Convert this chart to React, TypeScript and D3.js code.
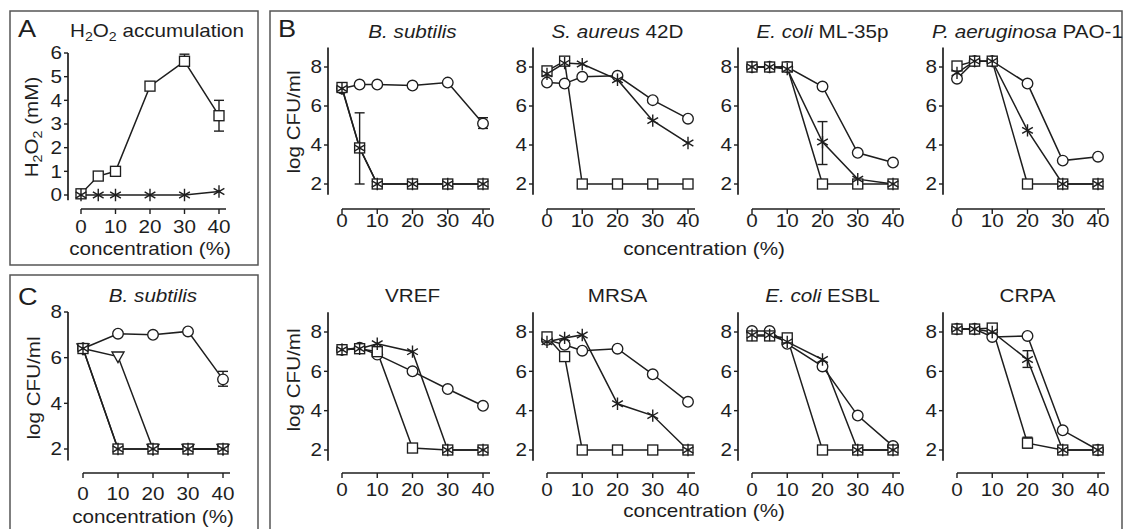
import React from 'react';
import * as d3 from 'd3';

const FONT = '"Liberation Sans", Arial, Helvetica, sans-serif';
const SX = 1.18;
const INK = '#1e1e1e';
const BOX = '#555';

// ---------- data ----------
const xTicks = [0, 10, 20, 30, 40];
const yTicksA = [0, 1, 2, 3, 4, 5, 6];
const yTicksCFU = [2, 4, 6, 8];

// Panel A (H2O2 accumulation)
const concA = [0, 5, 10, 20, 30, 40];
const h2o2Square = [0.05, 0.8, 1.0, 4.6, 5.65, 3.35];
const h2o2Star = [0, 0, 0, 0, 0, 0.15];
const h2o2Err = [
  { s: 'square', i: 4, lo: 5.45, hi: 5.95 },
  { s: 'square', i: 5, lo: 2.7, hi: 4.0 },
];

// Panel B
const concB = [0, 5, 10, 20, 30, 40];
const bsubCircle = [6.9, 7.1, 7.1, 7.05, 7.2, 5.1];
const bsubSquare = [6.95, 3.85, 2, 2, 2, 2];
const bsubStar = [6.9, 3.85, 2, 2, 2, 2];
const bsubErr = [
  { s: 'circle', i: 5, lo: 4.85, hi: 5.4 },
  { s: 'square', i: 1, lo: 2.0, hi: 5.65 },
];
const saurCircle = [7.2, 7.15, 7.5, 7.55, 6.3, 5.35];
const saurSquare = [7.8, 8.3, 2, 2, 2, 2];
const saurStar = [7.65, 8.2, 8.15, 7.35, 5.25, 4.1];
const ecmlCircle = [8, 8, 8, 7.0, 3.6, 3.1];
const ecmlSquare = [8, 8, 8, 2, 2, 2];
const ecmlStar = [8, 8, 7.9, 4.15, 2.25, 2];
const ecmlErr = [{ s: 'star', i: 3, lo: 3.0, hi: 5.2 }];
const paerCircle = [7.4, 8.3, 8.3, 7.15, 3.2, 3.4];
const paerSquare = [8.05, 8.3, 8.3, 2, 2, 2];
const paerStar = [7.7, 8.3, 8.3, 4.75, 2, 2];
const vrefCircle = [7.1, 7.2, 6.85, 6.0, 5.1, 4.25];
const vrefSquare = [7.1, 7.15, 7.0, 2.1, 2, 2];
const vrefStar = [7.1, 7.15, 7.4, 7.0, 2, 2];
const mrsaCircle = [7.6, 7.35, 7.05, 7.15, 5.85, 4.45];
const mrsaSquare = [7.75, 6.75, 2, 2, 2, 2];
const mrsaStar = [7.5, 7.7, 7.85, 4.35, 3.75, 2];
const esblCircle = [8.05, 8.05, 7.4, 6.25, 3.75, 2.2];
const esblSquare = [7.8, 7.8, 7.7, 2, 2, 2];
const esblStar = [7.85, 7.85, 7.5, 6.6, 2, 2];
const crpaCircle = [8.15, 8.15, 7.75, 7.8, 3.0, 2];
const crpaSquare = [8.15, 8.15, 8.2, 2.35, 2, 2];
const crpaStar = [8.15, 8.15, 8.0, 6.6, 2, 2];
const crpaErr = [
  { s: 'square', i: 3, lo: 2.1, hi: 2.65 },
  { s: 'star', i: 3, lo: 6.2, hi: 7.05 },
];

// Panel C
const concC = [0, 10, 20, 30, 40];
const cCircle = [6.4, 7.05, 7.0, 7.15, 5.05];
const cTriangle = [6.4, 6.05, 2, 2, 2];
const cSquare = [6.4, 2, 2, 2, 2];
const cStar = [6.4, 2, 2, 2, 2];
const cErr = [{ s: 'circle', i: 4, lo: 4.75, hi: 5.4 }];

// ---------- helpers ----------
function T({ x, y, children, anchor = 'middle', size = 17.5, rotate = 0 }: any) {
  return (
    <text
      transform={`translate(${x},${y}) rotate(${rotate}) scale(${SX},1)`}
      textAnchor={anchor}
      fontSize={size}
      fill={INK}
      fontFamily={FONT}
    >
      {children}
    </text>
  );
}

function Marker({ kind, x, y }: any) {
  const common = { fill: 'white', stroke: INK, strokeWidth: 1.35 };
  if (kind === 'circle') return <circle cx={x} cy={y} r={5.3} {...common} />;
  if (kind === 'square') return <rect x={x - 5} y={y - 5} width={10} height={10} {...common} />;
  if (kind === 'triangle')
    return <path d={`M${x - 6},${y - 4.5}L${x + 6},${y - 4.5}L${x},${y + 6}Z`} {...common} />;
  const r = 6.2;
  const d = [90, 30, 150]
    .map((a) => {
      const rad = (a * Math.PI) / 180;
      const dx = r * Math.cos(rad), dy = r * Math.sin(rad);
      return `M${x - dx},${y - dy}L${x + dx},${y + dy}`;
    })
    .join('');
  return <path d={d} stroke={INK} strokeWidth={1.4} fill="none" />;
}

function Plot({ geo, xs, series, errs = [], yTicks, title, titleY, ylabel }: any) {
  const x = d3.scaleLinear().domain([0, 40]).range([geo.x0, geo.x40]);
  const y = d3.scaleLinear().domain(geo.yDom).range(geo.yRng);
  const line = d3
    .line<[number, number]>()
    .x((d) => x(d[0]))
    .y((d) => y(d[1]));
  const order = ['circle', 'triangle', 'square', 'star'];
  const sorted = [...series].sort((a: any, b: any) => order.indexOf(a.kind) - order.indexOf(b.kind));
  return (
    <g>
      {/* y axis */}
      <line x1={geo.yAxisX} x2={geo.yAxisX} y1={y(geo.axTop)} y2={y(geo.axBot)} stroke={INK} strokeWidth={1.7} />
      {yTicks.map((t: number) => (
        <g key={'y' + t}>
          <line x1={geo.yAxisX - 4} x2={geo.yAxisX} y1={y(t)} y2={y(t)} stroke={INK} strokeWidth={1.4} />
          <T x={geo.yAxisX - 6} y={y(t) + 6.3} anchor="end" size={17.5}>
            {t}
          </T>
        </g>
      ))}
      {/* x axis */}
      <line x1={x(0)} x2={x(40) + 7} y1={geo.xAxisY} y2={geo.xAxisY} stroke={INK} strokeWidth={1.7} />
      {xTicks.map((t) => (
        <g key={'x' + t}>
          <line x1={x(t)} x2={x(t)} y1={geo.xAxisY} y2={geo.xAxisY + 5} stroke={INK} strokeWidth={1.4} />
          <T x={x(t)} y={geo.xTickY} size={17.5}>
            {t}
          </T>
        </g>
      ))}
      {title && (
        <T x={(geo.x0 + geo.x40) / 2} y={titleY}>
          {title}
        </T>
      )}
      {ylabel}
      {/* lines */}
      {sorted.map((s: any) => (
        <path
          key={'l' + s.kind}
          d={line(xs.map((c: number, i: number) => [c, s.values[i]])) || ''}
          fill="none"
          stroke={INK}
          strokeWidth={1.5}
        />
      ))}
      {/* error bars */}
      {errs.map((e: any, k: number) => {
        const cx = x(xs[e.i]);
        return (
          <g key={'e' + k} stroke={INK} strokeWidth={1.4}>
            <line x1={cx} x2={cx} y1={y(e.lo)} y2={y(e.hi)} />
            <line x1={cx - 5} x2={cx + 5} y1={y(e.lo)} y2={y(e.lo)} />
            <line x1={cx - 5} x2={cx + 5} y1={y(e.hi)} y2={y(e.hi)} />
          </g>
        );
      })}
      {/* markers */}
      {sorted.map((s: any) =>
        xs.map((c: number, i: number) => (
          <Marker key={s.kind + i} kind={s.kind} x={x(c)} y={y(s.values[i])} />
        ))
      )}
    </g>
  );
}

const It = ({ children }: any) => <tspan fontStyle="italic">{children}</tspan>;

export default function App() {
  const colX = [328, 533, 738, 943];
  const rowGeo = [
    { yDom: [2, 8], yRng: [184, 67], axTop: 9, axBot: 1.45, xAxisY: 209, xTickY: 227, titleY: 38 },
    { yDom: [2, 8], yRng: [450, 332], axTop: 9, axBot: 1.45, xAxisY: 473, xTickY: 496, titleY: 302 },
  ];
  const bPanels = [
    { r: 0, c: 0, title: <It>B. subtilis</It>, ci: bsubCircle, sq: bsubSquare, st: bsubStar, err: bsubErr },
    { r: 0, c: 1, title: <><It>S. aureus</It> 42D</>, ci: saurCircle, sq: saurSquare, st: saurStar, err: [] },
    { r: 0, c: 2, title: <><It>E. coli</It> ML-35p</>, ci: ecmlCircle, sq: ecmlSquare, st: ecmlStar, err: ecmlErr },
    { r: 0, c: 3, title: <><It>P. aeruginosa</It> PAO-1</>, ci: paerCircle, sq: paerSquare, st: paerStar, err: [] },
    { r: 1, c: 0, title: <>VREF</>, ci: vrefCircle, sq: vrefSquare, st: vrefStar, err: [] },
    { r: 1, c: 1, title: <>MRSA</>, ci: mrsaCircle, sq: mrsaSquare, st: mrsaStar, err: [] },
    { r: 1, c: 2, title: <><It>E. coli</It> ESBL</>, ci: esblCircle, sq: esblSquare, st: esblStar, err: [] },
    { r: 1, c: 3, title: <>CRPA</>, ci: crpaCircle, sq: crpaSquare, st: crpaStar, err: crpaErr },
  ];
  const sub = (s: string) => (
    <tspan fontSize={12} dy={4}>
      {s}
    </tspan>
  );
  return (
    <svg
      width={1125}
      height={529}
      style={{ position: 'absolute', left: 0, top: 0, background: 'white' }}
    >
      <rect x={0} y={0} width={1125} height={529} fill="white" />
      {/* boxes */}
      <rect x={10} y={11} width={248} height={254} fill="none" stroke={BOX} strokeWidth={1.5} />
      <rect x={10} y={275} width={248} height={265} fill="none" stroke={BOX} strokeWidth={1.5} />
      <rect x={270} y={11} width={852} height={530} fill="none" stroke={BOX} strokeWidth={1.5} />

      {/* panel letters */}
      <T x={18} y={37} anchor="start" size={23}>A</T>
      <T x={278} y={37} anchor="start" size={23}>B</T>
      <T x={18} y={305} anchor="start" size={23}>C</T>

      {/* Panel A */}
      <T x={157} y={37}>
        <tspan>H</tspan>
        {sub('2')}
        <tspan dy={-4}>O</tspan>
        {sub('2')}
        <tspan dy={-4}> accumulation</tspan>
      </T>
      <Plot
        geo={{ x0: 81, x40: 219, yDom: [0, 6], yRng: [195, 53], axTop: 6, axBot: -0.22, yAxisX: 68, xAxisY: 209, xTickY: 233 }}
        xs={concA}
        series={[
          { kind: 'square', values: h2o2Square },
          { kind: 'star', values: h2o2Star },
        ]}
        errs={h2o2Err}
        yTicks={yTicksA}
        ylabel={
          <T x={38} y={127} rotate={-90}>
            <tspan>H</tspan>
            {sub('2')}
            <tspan dy={-4}>O</tspan>
            {sub('2')}
            <tspan dy={-4}> (mM)</tspan>
          </T>
        }
      />
      <T x={150} y={255}>concentration (%)</T>

      {/* Panel B */}
      {bPanels.map((p, k) => {
        const g = rowGeo[p.r];
        const yAxisX = colX[p.c];
        return (
          <Plot
            key={k}
            geo={{ ...g, yAxisX, x0: yAxisX + 14, x40: yAxisX + 155 }}
            xs={concB}
            series={[
              { kind: 'circle', values: p.ci },
              { kind: 'square', values: p.sq },
              { kind: 'star', values: p.st },
            ]}
            errs={p.err}
            yTicks={yTicksCFU}
            title={p.title}
            titleY={g.titleY}
            ylabel={
              p.c === 0 ? (
                <T x={300} y={p.r === 0 ? 122 : 380} rotate={-90}>
                  log CFU/ml
                </T>
              ) : null
            }
          />
        );
      })}
      <T x={704} y={255}>concentration (%)</T>
      <T x={704} y={517}>concentration (%)</T>

      {/* Panel C */}
      <Plot
        geo={{ x0: 83, x40: 223, yDom: [2, 8], yRng: [449, 312], axTop: 8, axBot: 1.5, yAxisX: 68, xAxisY: 473, xTickY: 499.5 }}
        xs={concC}
        series={[
          { kind: 'circle', values: cCircle },
          { kind: 'triangle', values: cTriangle },
          { kind: 'square', values: cSquare },
          { kind: 'star', values: cStar },
        ]}
        errs={cErr}
        yTicks={yTicksCFU}
        title={<It>B. subtilis</It>}
        titleY={302}
        ylabel={
          <T x={40} y={388} rotate={-90}>
            log CFU/ml
          </T>
        }
      />
      <T x={153} y={523}>concentration (%)</T>
    </svg>
  );
}
